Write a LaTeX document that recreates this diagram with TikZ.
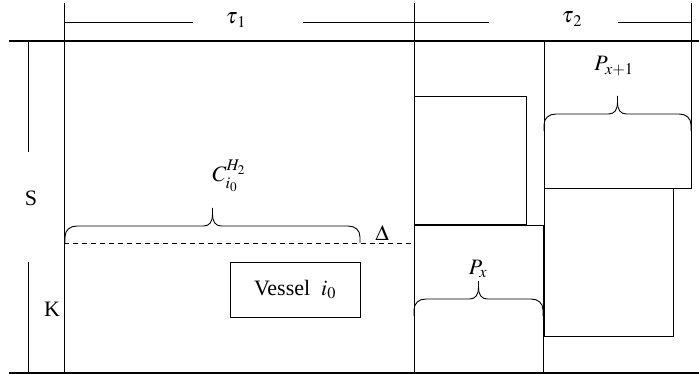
\documentclass[tikz,border=0pt]{standalone}
\usepackage{mathptmx}
\usepackage{fontspec}
\setmainfont{Liberation Serif}

% curly brace over a span: \hbrc{left x}{right x}{base y}
\newcommand{\hbrc}[3]{%
  \draw (#1,#3) -- (#1,{#3-6})
    .. controls (#1,{#3-13}) and ({#1+5},{#3-17}) .. ({#1+12},{#3-17})
    -- ({(#1+#2)/2-9},{#3-17})
    .. controls ({(#1+#2)/2-3},{#3-17}) and ({(#1+#2)/2},{#3-21}) .. ({(#1+#2)/2},{#3-29})
    -- ({(#1+#2)/2},{#3-35});
  \draw ({(#1+#2)/2},{#3-29})
    .. controls ({(#1+#2)/2},{#3-21}) and ({(#1+#2)/2+3},{#3-17}) .. ({(#1+#2)/2+9},{#3-17})
    -- ({#2-12},{#3-17})
    .. controls ({#2-5},{#3-17}) and (#2,{#3-13}) .. (#2,{#3-6}) -- (#2,#3);}

\begin{document}
\begin{tikzpicture}[x=1pt,y=-1pt,line width=0.9pt,
  every node/.style={font=\fontsize{22}{26}\selectfont,inner sep=1pt},
  frame/.style={line width=1.2pt}]
\useasboundingbox (0,0) rectangle (699,374);
% main frame
\coordinate (tl) at (9,41); \coordinate (tr) at (699,41);
\coordinate (bl) at (9,373); \coordinate (br) at (699,373);
\draw[frame] (tl) -- (tr);
\draw[frame] (bl) -- (br);
\coordinate (a0) at (64,3); \coordinate (a1) at (64,373);
\coordinate (b0) at (414,3); \coordinate (b1) at (414,373);
\coordinate (c0) at (691,3); \coordinate (c1) at (691,41);
\draw (a0) -- (a1);
\draw (b0) -- (b1);
\draw (c0) -- (c1);
% time spans
\node (tau1) at (236,20) {$\tau_{\,1}$};
\node (tau2) at (572,19) {$\tau_{\,2}$};
\coordinate (d1) at (64,22); \coordinate (d2) at (193,22);
\coordinate (d3) at (303,22); \coordinate (d4) at (489,22);
\coordinate (d5) at (618,22); \coordinate (d6) at (691,22);
\draw (d1) -- (d2);
\draw (d3) -- (d4);
\draw (d5) -- (d6);
% berth axis
\node (S) at (31,198) {S};
\node (K) at (52,309) {K};
\coordinate (s0) at (28,41); \coordinate (s1) at (28,152);
\coordinate (k0) at (28,262); \coordinate (k1) at (28,373);
\draw (s0) -- (s1);
\draw (k0) -- (k1);
% vessel i0
\coordinate (h0) at (64,243); \coordinate (h1) at (414,243);
\draw[dash pattern=on 5pt off 4pt] (h0) -- (h1);
\node (delta) at (382,233) {$\Delta$};
\draw (230,262) rectangle (360,317) node[pos=.5] (vessel) {Vessel\ \ $i_0$};
\hbrc{65}{360}{243}
\node (cap) at (229,176) {$C_{i_0}^{H_2}$};
% occupied blocks
\draw (414,96) rectangle (526,224);
\draw (414,225) rectangle (543,373);
\draw (544,41) rectangle (691,188);
\draw (544,188) rectangle (673,336);
\hbrc{544}{691}{131}
\node (px1) at (614,66) {$P_{x+1}$};
\hbrc{414}{543}{316}
\node (px) at (478,269) {$P_x$};
\end{tikzpicture}
\end{document}
